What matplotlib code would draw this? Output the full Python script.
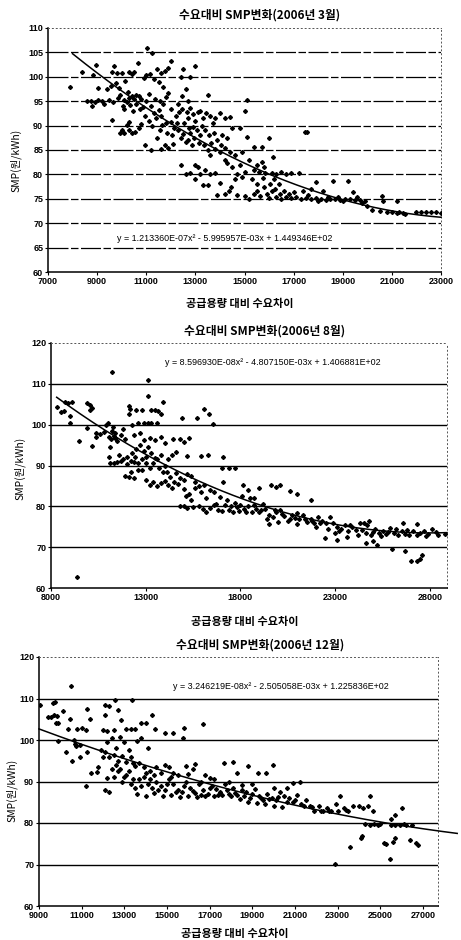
import numpy as np
import matplotlib
matplotlib.use("Agg")
import matplotlib.pyplot as plt

plt.rcParams['font.family'] = ['Noto Sans CJK KR', 'DejaVu Sans']

# ---- data ----
titles = ['수요대비 SMP변화(2006년 3월)', '수요대비 SMP변화(2006년 8월)', '수요대비 SMP변화(2006년 12월)']
xlabel = '공급용량 대비 수요차이'
ylabel = 'SMP(원/kWh)'

# quadratic trend coefficients (a, b, c) for y = a x^2 + b x + c
mar_coef = (1.213360E-07, -5.995957E-03, 1.449346E+02)
aug_coef = (8.596930E-08, -4.807150E-03, 1.406881E+02)
dec_coef = (3.246219E-08, -2.505058E-03, 1.225836E+02)

mar_eq = 'y = 1.213360E-07x² - 5.995957E-03x + 1.449346E+02'
aug_eq = 'y = 8.596930E-08x² - 4.807150E-03x + 1.406881E+02'
dec_eq = 'y = 3.246219E-08x² - 2.505058E-03x + 1.225836E+02'

mar_points = [
    (7900, 98.0), (8400, 101.0), (8850, 100.3), (8950, 102.5), (9050, 97.8), (8600, 95.0), (8750, 95.1),
    (8900, 94.9), (9050, 95.2), (9200, 95.0), (8800, 94.0), (9300, 94.5), (9500, 95.3), (9650, 94.8),
    (9400, 97.5), (9550, 98.2), (9700, 102.3), (9620, 101.0), (9800, 100.8), (9750, 98.8), (9900, 97.8),
    (9600, 91.2), (9850, 95.6), (9950, 96.3), (10000, 100.8), (10150, 99.2), (10300, 100.9), (10400, 100.5),
    (10500, 101.0), (10050, 94.0), (10100, 93.5), (10200, 94.8), (10300, 95.6), (10250, 96.8), (10400, 96.0),
    (10500, 95.5), (10600, 96.2), (10700, 96.0), (10800, 95.5), (10650, 102.8), (10900, 99.8), (11000, 100.3),
    (11050, 106.0), (11250, 104.9), (11150, 100.5), (11300, 99.5), (11450, 101.5), (11600, 100.8),
    (11750, 101.2), (11900, 101.8), (12000, 103.2), (11500, 99.0), (11700, 98.0), (10000, 89.0),
    (10100, 88.4), (10200, 90.2), (10300, 89.0), (10400, 88.5), (10550, 88.6), (10700, 89.6), (10800, 90.3),
    (10950, 86.0), (10300, 90.8), (9950, 88.5), (10850, 93.8), (11000, 95.0), (11100, 96.5), (11200, 94.0),
    (11300, 92.5), (11400, 91.5), (11500, 93.2), (11600, 92.0), (11700, 94.5), (11800, 95.8), (11900, 96.6),
    (12000, 93.5), (11200, 85.0), (11450, 87.5), (11600, 85.2), (11750, 86.0), (11900, 85.5), (12100, 86.3),
    (11550, 89.0), (11800, 90.5), (12000, 90.8), (12200, 92.0), (12300, 94.5), (12450, 96.0), (12500, 101.6),
    (12400, 100.0), (12800, 100.0), (13000, 102.2), (12600, 97.5), (12700, 95.0), (12800, 93.6), (12900, 92.3),
    (13000, 91.0), (13100, 92.8), (12300, 89.0), (12400, 87.5), (12500, 88.2), (12600, 86.7), (12700, 87.0),
    (12800, 88.5), (12900, 89.8), (13050, 89.0), (13200, 88.0), (12550, 90.5), (12700, 91.5), (13200, 93.0),
    (13300, 91.5), (13500, 96.2), (13600, 92.0), (13700, 90.5), (13800, 91.5), (14000, 92.5), (14200, 91.6),
    (14400, 91.8), (14500, 89.5), (14100, 88.0), (14300, 87.5), (13350, 86.0), (13500, 85.0), (13600, 84.0),
    (13800, 85.2), (14000, 84.5), (14200, 85.5), (14400, 84.6), (12400, 82.0), (12600, 80.0), (12800, 80.3),
    (13000, 82.0), (13100, 81.5), (13200, 80.0), (13400, 81.0), (13600, 80.0), (13800, 80.3), (13000, 79.0),
    (13300, 77.8), (13500, 77.8), (13900, 75.8), (14200, 75.9), (14000, 78.3), (14350, 76.5), (14450, 77.5),
    (14600, 79.0), (14700, 80.0), (14500, 81.5), (14300, 82.3), (14800, 82.0), (14900, 79.5), (15000, 80.5),
    (14700, 75.8), (15000, 75.5), (15200, 75.0), (15400, 76.0), (15500, 78.0), (15300, 79.0), (15600, 80.5),
    (15700, 82.5), (15800, 77.5), (15900, 76.0), (16000, 75.2), (15100, 87.6), (15000, 93.0), (15100, 95.2),
    (14800, 89.5), (15400, 85.6), (15700, 85.6), (16000, 87.5), (16150, 83.5), (16100, 80.3), (16300, 80.1),
    (16500, 80.4), (16700, 80.0), (16900, 80.3), (17200, 80.2), (16200, 79.0), (16400, 78.0), (16600, 76.5),
    (16800, 76.0), (16100, 76.5), (16300, 75.3), (16500, 75.0), (16700, 75.3), (16900, 75.1), (17100, 75.4),
    (17300, 75.0), (17500, 75.2), (17700, 74.9), (17900, 75.2), (18100, 75.0), (18300, 74.8), (18500, 75.0),
    (18700, 74.9), (18900, 74.8), (19100, 75.0), (19300, 74.9), (19500, 74.7), (19700, 74.8), (19900, 74.5),
    (17400, 76.5), (17700, 77.0), (17900, 78.5), (18200, 76.5), (18600, 78.7), (19200, 78.7), (19400, 76.3),
    (19800, 74.2), (20000, 73.5), (20200, 72.8), (20500, 72.4), (20600, 75.5), (20650, 74.6), (21200, 74.5),
    (20800, 72.3), (21000, 72.3), (21200, 72.1), (21300, 72.2), (21450, 72.0), (21550, 71.8), (22000, 72.2),
    (22200, 72.2), (22400, 72.2), (22600, 72.2), (22800, 72.2), (23000, 72.1), (17450, 88.7), (17550, 88.7),
    (14200, 83.0), (14600, 84.0), (14900, 84.5), (15200, 83.0), (15500, 82.0), (15800, 81.5),
    (10100, 95.3), (10350, 94.2), (10450, 93.0), (10600, 94.5), (10750, 93.5), (10950, 92.0), (11100, 91.0),
    (11250, 90.0), (11350, 95.5), (11550, 95.0), (11650, 90.2), (11850, 88.5), (12050, 88.0), (12150, 89.5),
    (12250, 90.5), (12350, 92.8), (12450, 93.5), (12650, 92.8), (12750, 89.5), (12850, 86.0), (12950, 87.5),
    (13150, 86.5), (13250, 90.0), (13400, 89.0), (13450, 92.5), (13550, 88.0), (13650, 86.5), (13750, 88.5),
    (13900, 87.0), (14050, 86.0), (15400, 80.8), (15500, 76.5), (15650, 75.5), (15750, 79.2), (15850, 80.3),
    (16050, 78.0), (16250, 77.0), (16450, 76.0), (17000, 76.3), (17600, 75.8), (18000, 74.6), (18400, 75.3),
    (18800, 75.4), (19000, 74.5), (19600, 75.3),
]

aug_points = [
    (8300, 104.3), (8550, 103.0), (8700, 103.3), (8750, 105.6), (8900, 105.3), (9100, 105.5), (9000, 102.2),
    (9000, 100.4), (9500, 96.0), (9350, 62.8), (9900, 105.3), (10050, 104.9), (10150, 104.0), (10050, 103.5),
    (9880, 99.3), (10150, 94.7), (10350, 96.9), (10400, 98.0), (10600, 97.6), (10800, 98.2), (10900, 99.8),
    (11000, 100.4), (11050, 97.0), (11150, 96.5), (11200, 98.5), (11300, 97.3), (11400, 96.8), (11500, 96.0),
    (11250, 99.5), (11400, 98.0), (11200, 113.0), (11100, 94.5), (11050, 92.0), (11100, 90.6), (11300, 90.5),
    (11500, 90.8), (11700, 91.0), (11600, 92.5), (11800, 91.5), (12000, 92.0), (12200, 91.0), (12400, 90.8),
    (12600, 90.5), (12000, 90.3), (11900, 87.5), (12200, 88.5), (12100, 87.2), (12400, 87.0), (12600, 89.0),
    (12800, 88.8), (13000, 90.5), (13200, 89.5), (12500, 94.0), (12700, 95.0), (12900, 93.5), (13100, 94.5),
    (13300, 93.0), (12100, 104.5), (12150, 103.8), (12100, 102.5), (12500, 103.7), (12800, 103.7),
    (13300, 103.6), (13500, 103.6), (13650, 103.3), (13800, 102.5), (13900, 105.5), (13130, 111.0),
    (13130, 107.0), (12300, 100.0), (12600, 100.5), (12900, 100.4), (13100, 100.4), (13300, 100.4),
    (13600, 100.4), (12400, 97.5), (12700, 98.0), (12900, 96.3), (13200, 96.8), (13500, 96.2), (13800, 97.0),
    (14000, 95.5), (13000, 86.5), (13200, 85.3), (13400, 86.0), (13600, 85.0), (13800, 85.8), (14000, 86.3),
    (14200, 85.3), (13400, 90.5), (13600, 91.5), (13800, 92.5), (14000, 90.0), (14200, 91.6), (14400, 92.5),
    (14600, 93.3), (14900, 101.6), (15700, 101.6), (16100, 103.8), (16350, 102.7), (16550, 100.2),
    (14450, 96.5), (14800, 96.4), (15000, 95.8), (15300, 96.7), (15200, 92.3), (15900, 92.3), (16300, 92.5),
    (17100, 92.0), (14600, 88.2), (14800, 87.0), (15000, 86.5), (15200, 88.0), (15400, 87.5), (15600, 86.0),
    (14400, 84.5), (14700, 85.5), (15000, 84.2), (15300, 83.0), (15600, 84.5), (15800, 85.0), (16100, 85.2),
    (16400, 84.0), (16600, 83.5), (15100, 82.5), (15400, 81.6), (14800, 80.2), (15000, 80.0), (15200, 79.6),
    (15500, 79.8), (15800, 80.0), (16000, 79.4), (16200, 78.5), (16400, 79.6), (16600, 80.4), (16800, 79.0),
    (17000, 78.8), (17200, 80.3), (17400, 79.2), (17600, 78.6), (17800, 79.8), (18000, 80.4), (18200, 79.3),
    (18400, 80.0), (18600, 78.5), (18800, 79.4), (16900, 82.3), (17300, 81.5), (17700, 80.8), (18100, 82.5),
    (18500, 82.0), (17000, 89.5), (17400, 89.4), (17700, 89.4), (17100, 86.0), (18150, 85.3), (18400, 84.0),
    (19000, 84.5), (19600, 85.3), (19900, 84.8), (20100, 85.2), (20600, 83.8), (21000, 83.0), (21700, 81.5),
    (18700, 82.0), (19200, 80.5), (19000, 78.5), (19300, 79.3), (19500, 78.0), (19700, 77.5), (19900, 78.5),
    (20100, 79.0), (20300, 77.6), (20500, 76.5), (20700, 78.0), (20900, 77.2), (21100, 76.8), (21300, 77.8),
    (21500, 76.2), (21700, 77.0), (21900, 76.0), (22100, 77.5), (22300, 76.5), (22500, 75.8), (22700, 77.3),
    (22900, 76.0), (23100, 75.0), (23300, 74.5), (23500, 75.5), (23700, 74.0), (23900, 75.0), (24100, 74.2),
    (24300, 75.8), (24500, 76.0), (24700, 75.5), (24800, 76.5), (24600, 73.5), (24900, 73.0), (25100, 74.5),
    (25300, 73.5), (25500, 74.0), (25700, 73.2), (25900, 74.8), (26100, 73.5), (26300, 73.0), (26500, 74.0),
    (26700, 73.3), (26900, 73.0), (27100, 74.0), (27300, 73.0), (27500, 73.5), (27700, 74.0), (27900, 73.2),
    (28100, 74.5), (28400, 73.0), (28800, 73.2), (26600, 75.8), (27300, 75.6), (25000, 71.5), (25200, 70.5),
    (24600, 71.0), (22450, 72.3), (23100, 71.8), (23600, 72.5), (26000, 69.5), (26700, 69.0), (27000, 66.5),
    (27300, 66.6), (27500, 67.0), (27600, 68.0), (19500, 75.6), (20000, 76.2), (21000, 75.6), (22000, 75.0),
    (23000, 73.5),
    (11700, 97.5), (11800, 99.0), (11900, 96.5), (12300, 93.0), (12450, 92.0), (12800, 91.5), (13000, 92.2),
    (13500, 91.8), (13700, 89.5), (13900, 88.5), (14100, 88.5), (14300, 87.2), (14500, 86.0), (15900, 83.5),
    (16200, 82.0), (16700, 80.6), (17500, 80.0), (17900, 78.9), (18300, 78.6), (18700, 80.3), (19100, 79.0),
    (19400, 77.0), (19800, 79.2), (20200, 78.2), (20600, 77.0), (21000, 78.3), (21400, 77.0), (21800, 76.5),
    (22200, 76.0), (22600, 74.5), (23200, 74.0), (23800, 75.5), (24200, 73.0), (24400, 74.3), (25000, 73.8),
    (25400, 72.8), (25800, 73.8), (26200, 74.5), (26800, 74.2), (27800, 72.8), (28300, 73.8),
]

dec_points = [
    (9060, 108.5), (9400, 105.5), (9550, 105.5), (9700, 106.0), (9850, 105.8), (9650, 108.8), (9750, 109.2),
    (9800, 104.0), (9900, 104.0), (10130, 107.0), (10520, 113.0), (10440, 105.0), (9900, 99.7), (10360, 102.6),
    (10280, 97.2), (10560, 95.0), (10750, 98.5), (10900, 98.8), (10650, 100.0), (10700, 99.0), (10800, 102.7),
    (11000, 102.8), (11200, 102.5), (11250, 107.4), (11400, 105.0), (11250, 97.0), (10900, 96.0),
    (11190, 88.8), (11450, 92.0), (11700, 92.3), (11770, 93.6), (12000, 96.0), (11900, 97.5), (12080, 106.0),
    (12100, 108.5), (12300, 108.3), (12550, 109.7), (12700, 107.3), (12860, 104.9), (13350, 109.7),
    (12000, 102.5), (12200, 102.2), (12500, 102.3), (13100, 102.7), (13300, 102.7), (13500, 102.7),
    (13800, 104.0), (14000, 104.0), (14300, 106.0), (14420, 102.6), (14900, 101.7), (15300, 101.7),
    (15800, 102.8), (15750, 100.4), (16700, 103.8), (12200, 99.5), (12400, 100.5), (12600, 98.0),
    (12800, 100.8), (13000, 99.5), (13200, 97.5), (13600, 99.8), (13800, 100.5), (14100, 98.0), (12100, 97.0),
    (12300, 95.8), (12500, 96.5), (12700, 95.0), (12900, 96.2), (13100, 94.8), (13300, 96.0), (13500, 93.8),
    (13700, 94.5), (13900, 93.5), (14200, 92.5), (14500, 93.6), (14700, 92.0), (14900, 94.0), (15100, 93.5),
    (15300, 92.0), (15500, 91.5), (12100, 88.0), (12300, 87.5), (12200, 90.8), (12500, 91.0), (12700, 92.5),
    (12900, 90.0), (13100, 91.5), (13300, 89.5), (13500, 88.5), (13700, 90.5), (13900, 91.0), (14100, 89.5),
    (14300, 88.5), (14500, 90.0), (14700, 89.0), (14900, 88.0), (15100, 90.5), (15300, 89.3), (15500, 88.0),
    (15700, 87.5), (15900, 90.0), (16100, 88.5), (16300, 87.2), (16500, 89.5), (16700, 88.0), (16900, 87.0),
    (17100, 89.0), (17300, 88.3), (17500, 87.5), (17700, 89.5), (17900, 87.0), (18100, 88.5), (18300, 86.8),
    (18500, 88.0), (18700, 87.5), (18900, 86.0), (19100, 88.2), (19300, 86.5), (19500, 85.5), (19700, 87.0),
    (19900, 86.0), (20100, 85.5), (20300, 87.5), (20500, 86.5), (20700, 86.0), (20900, 85.0), (21100, 86.8),
    (13600, 87.0), (14000, 86.5), (14400, 87.3), (14800, 86.5), (15200, 86.8), (15600, 86.2), (16000, 86.5),
    (16400, 86.3), (16800, 86.4), (17200, 86.5), (17600, 86.7), (18000, 86.4), (18400, 85.8), (18800, 85.0),
    (19200, 84.8), (19600, 84.5), (20000, 84.0), (20400, 83.8), (15900, 93.7), (16200, 93.0), (16300, 94.2),
    (16800, 91.5), (17000, 90.8), (17650, 94.5), (18100, 94.8), (18300, 92.0), (18800, 93.8), (19250, 92.0),
    (19650, 92.0), (19970, 94.0), (20900, 89.6), (21250, 89.9), (21300, 84.5), (21500, 85.5), (21700, 84.0),
    (21900, 83.0), (22100, 84.2), (22300, 83.0), (22500, 83.5), (22700, 82.8), (22900, 84.5), (23100, 86.4),
    (23300, 83.5), (23500, 82.8), (23700, 84.0), (24000, 84.0), (24200, 83.5), (24400, 84.0), (24500, 86.5),
    (24650, 82.8), (22860, 70.1), (23560, 74.3), (24100, 76.5), (24150, 76.8), (24300, 79.8), (24500, 79.5),
    (24700, 79.8), (24900, 79.6), (25000, 79.8), (25150, 75.3), (25250, 75.0), (25450, 71.3), (25600, 75.5),
    (25700, 76.3), (25500, 81.0), (25700, 82.0), (26000, 83.5), (25500, 79.6), (25700, 79.4), (25900, 79.6),
    (26100, 79.8), (26200, 79.5), (26500, 79.6), (26400, 76.0), (26650, 75.3), (26750, 74.8),
    (13400, 90.5), (13800, 89.0), (14200, 90.5), (14600, 88.0), (15000, 89.5), (15400, 87.5), (15800, 89.0),
    (16200, 87.8), (16600, 86.8), (17000, 88.5), (17400, 86.8), (17800, 88.0), (18200, 87.3), (18600, 86.5),
    (19000, 87.0), (19400, 86.0), (19800, 85.8), (20200, 86.2), (20600, 85.0), (21000, 85.5), (21400, 84.0),
    (21800, 83.8), (22200, 83.0), (22600, 82.8), (23000, 83.0), (23400, 83.2), (12800, 93.0), (13000, 91.0),
    (13200, 92.5), (13400, 94.5), (12600, 94.0), (12400, 93.0), (14000, 92.0), (14400, 91.5), (15200, 91.0),
    (16000, 91.8), (16600, 90.0), (17200, 90.5), (17900, 90.0), (18500, 89.2), (19000, 89.5), (20000, 88.5),
    (20600, 88.5),
]

# axis settings per panel
mar_xticks = list(range(7000, 23001, 2000))
aug_xticks = list(range(8000, 28001, 5000))
dec_xticks = list(range(9000, 27001, 2000))


def draw_panel(fig, rect, pts, coef, eq, eq_pos, xlim, xticks, ylim, ystep, fit_range,
               title, title_xy, xlab_xy, ylab_xy, dashed_grid=False):
    ax = fig.add_axes(rect)
    xs = np.array([p[0] for p in pts], dtype=float)
    ys = np.array([p[1] for p in pts], dtype=float)

    # horizontal gridlines
    for yv in np.arange(ylim[0] + ystep, ylim[1], ystep):
        if dashed_grid:
            ax.axhline(yv, color='black', lw=0.9, dashes=(16, 2, 6, 2), zorder=1)
        else:
            ax.axhline(yv, color='black', lw=1.0, zorder=1)

    ax.plot(xs, ys, linestyle='none', marker='D', ms=2.0, color='black', zorder=3)

    a, b, c = coef
    xf = np.linspace(fit_range[0], fit_range[1], 200)
    ax.plot(xf, a * xf ** 2 + b * xf + c, color='black', lw=1.1, zorder=4, clip_on=False)

    ax.text(eq_pos[0], eq_pos[1], eq, fontsize=6.4, family=['Liberation Sans', 'DejaVu Sans'],
            ha='left', va='center', zorder=5)

    ax.set_xlim(*xlim)
    ax.set_ylim(*ylim)
    ax.set_xticks(xticks)
    ax.set_yticks(np.arange(ylim[0], ylim[1] + 0.1, ystep))
    for lab in ax.get_xticklabels() + ax.get_yticklabels():
        lab.set_family(['Liberation Sans', 'DejaVu Sans'])
        lab.set_fontweight('bold')
        lab.set_fontsize(6.5)
    ax.tick_params(length=2, width=0.8, pad=1.5)

    for side in ['left', 'bottom']:
        ax.spines[side].set_linewidth(1.1)
    for side in ['top', 'right']:
        ax.spines[side].set_linestyle((0, (1, 3)))
        ax.spines[side].set_linewidth(0.7)
        ax.spines[side].set_color('#555555')

    fig.text(title_xy[0] / 461, 1 - title_xy[1] / 940, title, fontsize=8.5,
             ha='center', va='center', fontweight='bold')
    fig.text(xlab_xy[0] / 461, 1 - xlab_xy[1] / 940, xlabel, fontsize=8,
             ha='center', va='center', fontweight='bold')
    fig.text(ylab_xy[0] / 461, 1 - ylab_xy[1] / 940, ylabel, fontsize=7.5,
             ha='center', va='center', rotation=90)
    return ax


fig = plt.figure(figsize=(4.61, 9.40), dpi=100)

draw_panel(fig, [48 / 461, 1 - 272 / 940, (441 - 48) / 461, (272 - 28) / 940],
           mar_points, mar_coef, mar_eq, (9800, 66.8),
           (7000, 23000), mar_xticks, (60, 110), 5, (8000, 23000),
           titles[0], (260, 15), (240, 304), (16, 160), dashed_grid=True)

draw_panel(fig, [51 / 461, 1 - 588 / 940, (447 - 51) / 461, (588 - 343) / 940],
           aug_points, aug_coef, aug_eq, (14000, 115.2),
           (8000, 28900), aug_xticks, (60, 120), 10, (8300, 28900),
           titles[1], (265, 331), (245, 621), (20, 468))

draw_panel(fig, [39 / 461, 1 - 906 / 940, (438 - 39) / 461, (906 - 657) / 940],
           dec_points, dec_coef, dec_eq, (15300, 113.0),
           (9000, 27700), dec_xticks, (60, 120), 10, (9000, 28600),
           titles[2], (260, 645), (235, 933), (12, 790))

fig.savefig('out.png', dpi=100)
